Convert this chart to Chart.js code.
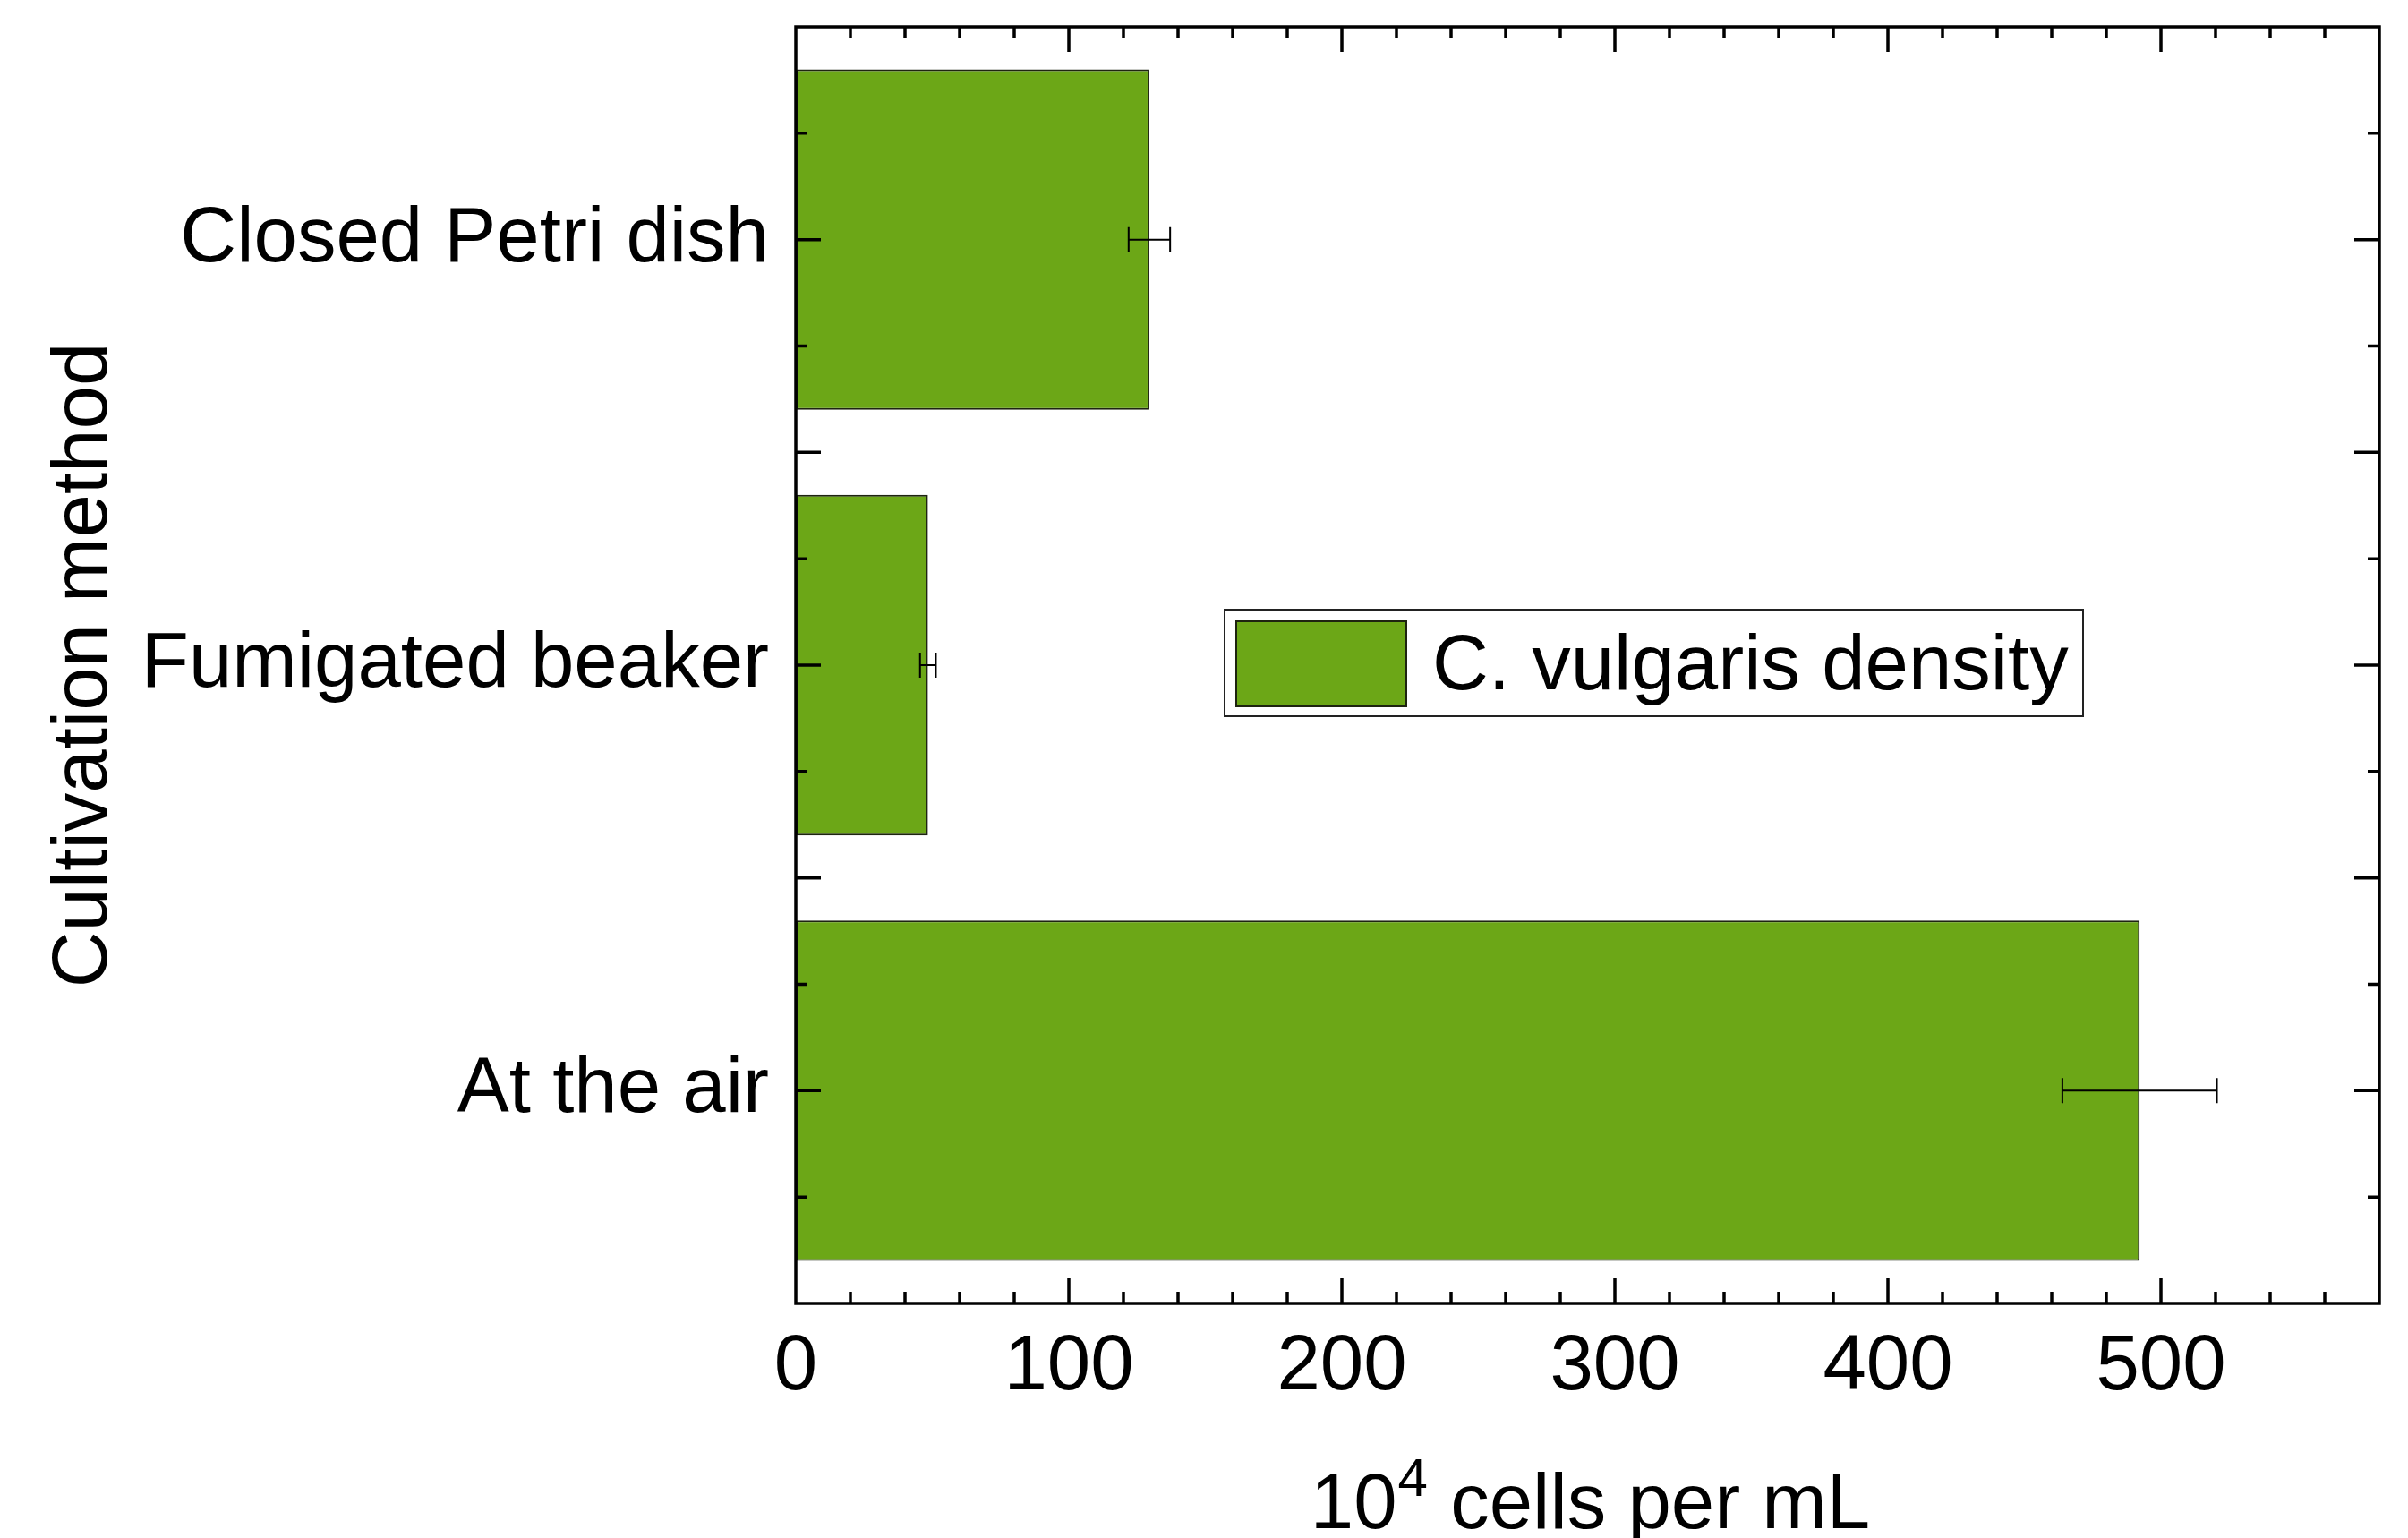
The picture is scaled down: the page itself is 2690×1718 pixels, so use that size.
<!DOCTYPE html>
<html><head><meta charset="utf-8">
<script src="https://cdn.jsdelivr.net/npm/chart.js@4.4.0/dist/chart.umd.min.js"></script>
<style>html,body{margin:0;padding:0;background:#fff;overflow:hidden}</style>
</head><body>
<canvas id="c" width="2690" height="1718" style="width:2690px;height:1718px;display:block"></canvas>
<script>
// ---- data ----
const categories = ['Closed Petri dish', 'Fumigated beaker', 'At the air'];
const densityValues = [129.5, 48.4, 492.2];
const densityErrors = [7.6, 2.9, 28.3];
const seriesLabel = 'C. vulgaris density';
const xTickValues = [0, 100, 200, 300, 400, 500];
const xMinorStep = 20;
const xMin = 0, xMax = 580;
const xTitleParts = ['10', '4', ' cells per mL'];
const yTitle = 'Cultivation method';

const FONT = "'Liberation Sans', Arial, sans-serif";
const FS = 87;
const BAR_COLOR = '#6ca717';
const INK = '#000';

const errorBarsPlugin = {
  id: 'errorBars',
  afterDatasetsDraw(chart) {
    const ctx = chart.ctx, xs = chart.scales.x, ys = chart.scales.y;
    ctx.save();
    ctx.strokeStyle = INK; ctx.lineWidth = 2;
    densityValues.forEach((v, i) => {
      const e = densityErrors[i];
      const y = ys.getPixelForValue(i);
      const x0 = xs.getPixelForValue(v - e), x1 = xs.getPixelForValue(v + e);
      const h = 14;
      ctx.beginPath();
      ctx.moveTo(x0, y); ctx.lineTo(x1, y);
      ctx.moveTo(x0, y - h); ctx.lineTo(x0, y + h);
      ctx.moveTo(x1, y - h); ctx.lineTo(x1, y + h);
      ctx.stroke();
    });
    ctx.restore();
  }
};

const framePlugin = {
  id: 'frameTicks',
  afterDatasetsDraw(chart) {
    const ctx = chart.ctx, a = chart.chartArea, xs = chart.scales.x, ys = chart.scales.y;
    const MAJ = 28, MIN = 13;
    ctx.save();
    ctx.strokeStyle = INK; ctx.lineWidth = 3.5; ctx.lineCap = 'butt';
    ctx.beginPath();
    for (let v = xMin + xMinorStep; v < xMax; v += xMinorStep) {
      const major = xTickValues.includes(v);
      const L = major ? MAJ : MIN;
      const x = xs.getPixelForValue(v);
      ctx.moveTo(x, a.bottom); ctx.lineTo(x, a.bottom - L);
      ctx.moveTo(x, a.top); ctx.lineTo(x, a.top + L);
    }
    for (let k = -0.25; k < categories.length - 0.5; k += 0.25) {
      const major = Math.abs(k * 2 - Math.round(k * 2)) < 1e-6;
      const L = major ? MAJ : MIN;
      const y = ys.getPixelForValue(k);
      ctx.moveTo(a.left, y); ctx.lineTo(a.left + L, y);
      ctx.moveTo(a.right, y); ctx.lineTo(a.right - L, y);
    }
    ctx.stroke();
    ctx.strokeRect(a.left, a.top, a.right - a.left, a.bottom - a.top);
    ctx.restore();
  }
};

const legendTitlesPlugin = {
  id: 'legendTitles',
  afterDraw(chart) {
    const ctx = chart.ctx, a = chart.chartArea;
    ctx.save();
    const lx = 1368, ly = 681, lw = 959, lh = 119;
    ctx.fillStyle = '#fff';
    ctx.fillRect(lx, ly, lw, lh);
    ctx.strokeStyle = '#222'; ctx.lineWidth = 2;
    ctx.strokeRect(lx, ly, lw, lh);
    const ds = chart.data.datasets[0];
    ctx.fillStyle = ds.backgroundColor;
    ctx.fillRect(1381, 694, 190, 95);
    ctx.strokeStyle = ds.borderColor; ctx.lineWidth = 2;
    ctx.strokeRect(1381, 694, 190, 95);
    ctx.fillStyle = INK;
    ctx.font = FS + 'px ' + FONT;
    ctx.textAlign = 'left'; ctx.textBaseline = 'alphabetic';
    ctx.fillText(ds.label, 1600, 770);

    const big = FS + 'px ' + FONT, small = '60px ' + FONT;
    ctx.font = big; const w0 = ctx.measureText(xTitleParts[0]).width;
    ctx.font = small; const w1 = ctx.measureText(xTitleParts[1]).width;
    ctx.font = big; const w2 = ctx.measureText(xTitleParts[2]).width;
    let x = (a.left + a.right) / 2 - (w0 + w1 + w2 + 2) / 2 + 3;
    const base = 1707;
    ctx.font = big; ctx.fillText(xTitleParts[0], x, base); x += w0;
    ctx.font = small; ctx.fillText(xTitleParts[1], x + 1, base - 36); x += w1 + 2;
    ctx.font = big; ctx.fillText(xTitleParts[2], x, base);

    ctx.translate(119, (a.top + a.bottom) / 2);
    ctx.rotate(-Math.PI / 2);
    ctx.textAlign = 'center';
    ctx.font = big;
    ctx.fillText(yTitle, 0, 0);
    ctx.restore();
  }
};

new Chart(document.getElementById('c'), {
  type: 'bar',
  data: {
    labels: categories,
    datasets: [{
      label: seriesLabel,
      data: densityValues,
      backgroundColor: BAR_COLOR,
      borderColor: '#1e2410',
      borderWidth: 2,
      borderSkipped: false,
      categoryPercentage: 1.0,
      barPercentage: 0.8
    }]
  },
  options: {
    indexAxis: 'y',
    responsive: false,
    animation: false,
    devicePixelRatio: 1,
    layout: { padding: { left: 0, top: 30, right: 32, bottom: 0 } },
    plugins: { legend: { display: false }, tooltip: { enabled: false } },
    scales: {
      x: {
        type: 'linear', min: xMin, max: xMax,
        position: 'bottom',
        grid: { display: false, drawTicks: false },
        border: { display: false },
        ticks: {
          stepSize: 100, includeBounds: false, padding: 20,
          color: INK, font: { family: FONT, size: FS }, maxRotation: 0
        },
        afterFit(s) { s.height = 262; s.paddingLeft = 0; s.paddingRight = 0; }
      },
      y: {
        type: 'category',
        position: 'left',
        grid: { display: false, drawTicks: false },
        border: { display: false },
        ticks: { padding: 30, color: INK, font: { family: FONT, size: FS } },
        afterFit(s) { s.width = 889; s.paddingTop = 0; s.paddingBottom = 0; }
      }
    }
  },
  plugins: [errorBarsPlugin, framePlugin, legendTitlesPlugin]
});
</script>
</body></html>
